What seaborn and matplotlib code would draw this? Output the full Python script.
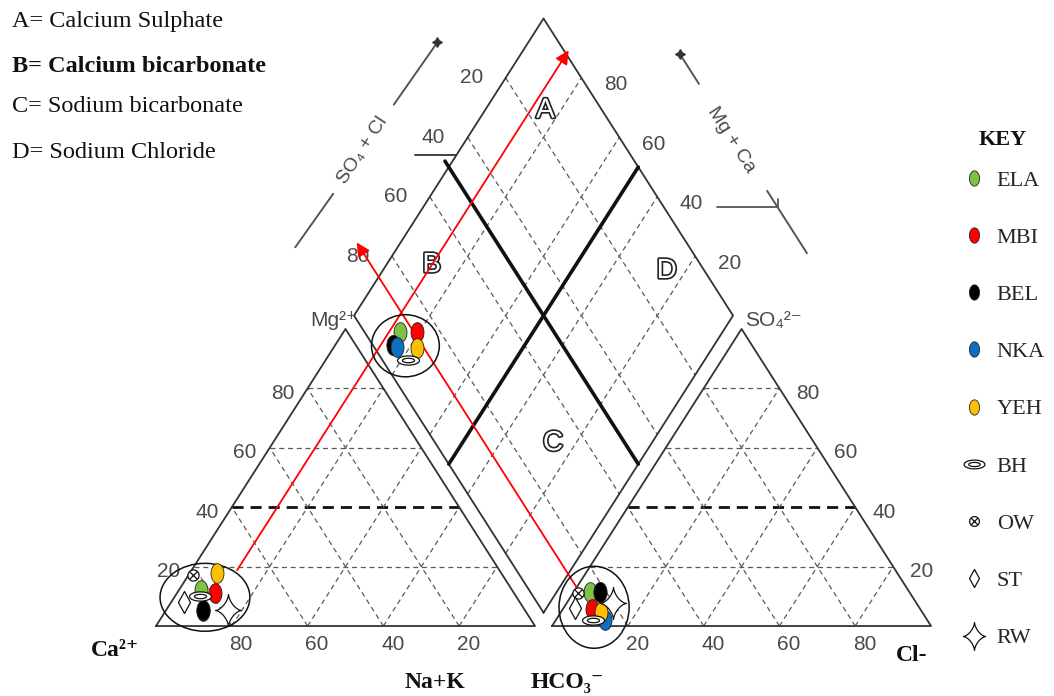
import numpy as np
import pandas as pd
import matplotlib
matplotlib.use("Agg")
import matplotlib.pyplot as plt
import seaborn as sns
from matplotlib.path import Path
from matplotlib.lines import Line2D
from matplotlib.patches import Ellipse
import matplotlib.patheffects as pe

# ---------------- data (percent of meq/L) ----------------
samples = ["ELA", "MBI", "BEL", "NKA", "YEH", "BH", "OW", "ST", "RW"]
# cations
cat_ca = [82.0, 79.0, 84.8, 85.0, 75.0, 83.5, 81.6, 88.5, 78.2]
cat_mg = [12.0, 11.0, 5.5, 5.0, 18.0, 10.0, 17.2, 8.0, 5.5]
cat_nak = [6.0, 10.0, 9.7, 10.0, 7.0, 6.5, 1.2, 3.5, 16.3]
# anions
an_hco3 = [84.3, 86.5, 81.6, 85.1, 84.8, 88.2, 87.6, 90.9, 80.2]
an_so4 = [11.4, 5.8, 11.4, 2.0, 4.7, 2.0, 11.0, 6.0, 7.7]
an_cl = [4.3, 7.7, 7.0, 12.9, 10.5, 9.8, 1.4, 3.1, 12.1]
# diamond positions as drawn (Na+K %, SO4+Cl %)
dia_nak = [15.0, 19.4, 15.2, 16.7, 22.1, 21.7, np.nan, np.nan, np.nan]
dia_clso4 = [9.4, 13.9, 5.3, 6.0, 11.2, 6.8, np.nan, np.nan, np.nan]

tick_values = [20, 40, 60, 80]
zone_letters = ["A", "B", "C", "D"]
zone_nak = [16, 12, 74, 75]
zone_clso4 = [85, 29, 31, 90]
zone_notes = ["A= Calcium Sulphate", "B= Calcium bicarbonate",
              "C= Sodium bicarbonate", "D= Sodium Chloride"]
arrow_nak = 12      # projection line from the cation cluster
arrow_clso4 = 13    # projection line from the anion cluster

# ---------------- geometry ----------------
S3 = np.sqrt(3.0)
G = 4.5  # gap between the triangles


def cat_xy(mg, nak):
    return nak + mg / 2.0, mg * S3 / 2.0


def an_xy(so4, cl):
    return 100 + G + cl + so4 / 2.0, so4 * S3 / 2.0


def dia_xy(nak, clso4):
    return (nak + 100 + G + clso4) / 2.0, S3 / 2.0 * (100 + G + clso4 - nak)


# ---------------- style ----------------
sns.set_style("white")
plt.rcParams["font.family"] = ["Liberation Sans", "DejaVu Sans"]
SERIF = ["Liberation Serif", "DejaVu Serif"]
SANS = ["Liberation Sans", "DejaVu Sans"]
GREY = "#4a4a4a"

fig = plt.figure(figsize=(10.54, 6.96), dpi=100)
ax = fig.add_axes([0, 0, 1, 1])
ax.set_xlim(-41.16, 236.94)
ax.set_ylim(-20.4, 182.5)
ax.axis("off")

EDGE = dict(color="#333333", lw=1.3, zorder=2, solid_capstyle="round")
GRID = dict(color="#5a5a5a", lw=0.9, ls=(0, (4, 3)), zorder=1)
BOLD = dict(color="#111111", lw=2.0, ls=(0, (4, 2.5)), zorder=1)
THICK = dict(color="#111111", lw=2.6, zorder=2)


def seg(p1, p2, **kw):
    ax.plot([p1[0], p2[0]], [p1[1], p2[1]], **kw)


def poly(pts, **kw):
    pts = list(pts) + [pts[0]]
    ax.plot([p[0] for p in pts], [p[1] for p in pts], **kw)


# outlines
poly([cat_xy(0, 0), cat_xy(0, 100), cat_xy(100, 0)], **EDGE)
poly([an_xy(0, 0), an_xy(0, 100), an_xy(100, 0)], **EDGE)
poly([dia_xy(100, 0), dia_xy(0, 0), dia_xy(0, 100), dia_xy(100, 100)], **EDGE)

# grids
for v in tick_values:
    st = BOLD if v == 40 else GRID
    seg(cat_xy(v, 0), cat_xy(v, 100 - v), **st)
    seg(cat_xy(0, v), cat_xy(100 - v, v), **GRID)
    seg(cat_xy(0, 100 - v), cat_xy(100 - v, 0), **GRID)
    seg(an_xy(v, 0), an_xy(v, 100 - v), **st)
    seg(an_xy(0, v), an_xy(100 - v, v), **GRID)
    seg(an_xy(0, 100 - v), an_xy(100 - v, 0), **GRID)
    seg(dia_xy(v, 0), dia_xy(v, 100), **GRID)
    seg(dia_xy(0, v), dia_xy(100, v), **GRID)
seg(dia_xy(50, 0), dia_xy(50, 100), **THICK)
seg(dia_xy(-2, 50), dia_xy(100, 50), **THICK)

# tick labels
TK = dict(color=GREY, fontsize=15, family=SANS, zorder=3)
for v in tick_values:
    x, y = cat_xy(0, 100 - v)
    ax.text(x + 2.5, y - 5.5, str(v), ha="center", va="center", **TK)
    x, y = cat_xy(v, 0)
    ax.text(x - 3.5, y - 1.5, str(v), ha="right", va="center", **TK)
    x, y = an_xy(0, v)
    ax.text(x + 2.5, y - 5.5, str(v), ha="center", va="center", **TK)
    x, y = an_xy(v, 100 - v)
    ax.text(x + 4.5, y - 1.5, str(v), ha="left", va="center", **TK)
    x, y = dia_xy(0, 100 - v)
    ax.text(x - 9, y, str(v), ha="center", va="center", **TK)
    x, y = dia_xy(100 - v, 100)
    ax.text(x + 9, y - 2, str(v), ha="center", va="center", **TK)

# apex labels
x, y = cat_xy(100, 0)
ax.text(x - 3, y + 2.5, "Mg²⁺", ha="center", va="center", color=GREY, fontsize=15, family=SANS)
x, y = an_xy(100, 0)
ax.text(x + 1, y + 2.5, "SO₄²⁻", ha="left", va="center", color=GREY, fontsize=15, family=SANS)

# bottom labels
BL = dict(fontsize=17, fontweight="bold", family=SERIF, ha="center", va="center", color="#111111")
ax.text(-10.8, -7.0, "Ca²⁺", **BL)
ax.text(73.6, -16.6, "Na+K", **BL)
ax.text(108.4, -16.6, "HCO₃⁻", **BL)
ax.text(199.5, -8.5, "Cl-", **BL)


def screen_angle(p1, p2):
    a = ax.transData.transform(p1)
    b = ax.transData.transform(p2)
    return np.degrees(np.arctan2(b[1] - a[1], b[0] - a[0]))


# diamond axis titles
AX = dict(color="#555555", lw=1.4, zorder=2)
seg(dia_xy(-27, -4), dia_xy(-26, 15), **AX)
seg(dia_xy(-25, 46), dia_xy(-24, 68), **AX)
ax.plot(*dia_xy(-24, 68), marker=(4, 1, 0), ms=7, color="#333333")
ang = screen_angle(dia_xy(-26, 0), dia_xy(-25, 60))
ax.text(*dia_xy(-25.5, 30), "SO₄ + Cl", rotation=ang, rotation_mode="anchor",
        ha="center", va="center", color=GREY, fontsize=14, family=SANS)
xe, ye = dia_xy(0, 54)
seg((xe - 11, ye), (xe, ye), color="#333333", lw=1.3)

seg(dia_xy(42, 130), dia_xy(52, 130), **AX)
seg(dia_xy(88, 130), dia_xy(109, 130), **AX)
ax.plot(*dia_xy(42, 130), marker=(4, 1, 0), ms=7, color="#333333")
ang = screen_angle(dia_xy(40, 130), dia_xy(100, 130))
ax.text(*dia_xy(70, 129), "Mg + Ca", rotation=ang, rotation_mode="anchor",
        ha="center", va="center", color=GREY, fontsize=14, family=SANS)
xm, ym = dia_xy(93.6, 130)
seg((xm - 16, ym), (xm, ym), color="#555555", lw=1.3)
seg((xm, ym), (xm, ym + 2.5), color="#555555", lw=1.3)

# zone letters
for L, n, c in zip(zone_letters, zone_nak, zone_clso4):
    ax.text(*dia_xy(n, c), L, ha="center", va="center", fontsize=20, color="white",
            family=SANS, zorder=3,
            path_effects=[pe.withStroke(linewidth=2.4, foreground="#222222")])

# projection arrows
ys, ye_ = 15.6, 168.5
ax.annotate("", xy=(arrow_nak + ye_ / S3, ye_), xytext=(arrow_nak + ys / S3, ys),
            arrowprops=dict(arrowstyle="-|>", color="red", lw=1.3, mutation_scale=20),
            zorder=4)
ys, ye_ = 9.9, 112.5
ax.annotate("", xy=(100 + G + arrow_clso4 - ye_ / S3, ye_),
            xytext=(100 + G + arrow_clso4 - ys / S3, ys),
            arrowprops=dict(arrowstyle="-|>", color="red", lw=1.3, mutation_scale=20),
            zorder=4)

# ---------------- markers ----------------
t = np.linspace(0, 2 * np.pi, 73)


def closed(v):
    v = np.asarray(v, float)
    v = np.vstack([v, v[:1]])
    return Path(v, closed=True)


OVAL = closed(np.column_stack([0.66 * np.cos(t[:-1]), np.sin(t[:-1])]))
BH_M = Path.make_compound_path(
    closed(np.column_stack([np.cos(t[:-1]), 0.42 * np.sin(t[:-1])])),
    closed(np.column_stack([0.55 * np.cos(t[:-1]), 0.2 * np.sin(t[:-1])])))
dd = 0.62
OW_M = Path.make_compound_path(
    closed(np.column_stack([np.cos(t[:-1]), np.sin(t[:-1])])),
    Path([(-dd, -dd), (dd, dd), (-dd, dd), (dd, -dd)],
         [Path.MOVETO, Path.LINETO, Path.MOVETO, Path.LINETO]))
ST_M = closed([(0, 1), (0.55, 0), (0, -1), (-0.55, 0)])
RW_M = closed(np.column_stack([0.8 * np.cos(t[:-1]) ** 3, np.sin(t[:-1]) ** 3]))

markers = {"ELA": OVAL, "MBI": OVAL, "BEL": OVAL, "NKA": OVAL, "YEH": OVAL,
           "BH": BH_M, "OW": OW_M, "ST": ST_M, "RW": RW_M}
colors = {"ELA": "#7dc243", "MBI": "#ff0000", "BEL": "#000000", "NKA": "#0b6fc4",
          "YEH": "#ffbf00", "BH": "white", "OW": "white", "ST": "white", "RW": "white"}
sizes = {"ELA": 200, "MBI": 200, "BEL": 210, "NKA": 200, "YEH": 200,
         "BH": 250, "OW": 64, "ST": 250, "RW": 530}
edges = {k: ("#222222", 0.6) if k in ["ELA", "MBI", "BEL", "NKA", "YEH"] else ("#111111", 0.9)
         for k in samples}

cx, cy = zip(*[cat_xy(m, n) for m, n in zip(cat_mg, cat_nak)])
axx, axy = zip(*[an_xy(s, c) for s, c in zip(an_so4, an_cl)])
dx, dy = zip(*[dia_xy(n, c) for n, c in zip(dia_nak, dia_clso4)])
df = pd.DataFrame({"sample": samples, "cx": cx, "cy": cy, "ax": axx, "ay": axy,
                   "dx": dx, "dy": dy})

orders = {
    ("cx", "cy"): ["NKA", "ELA", "MBI", "BEL", "YEH", "BH", "OW", "ST", "RW"],
    ("ax", "ay"): ["ELA", "MBI", "BEL", "NKA", "YEH", "BH", "OW", "ST", "RW"],
    ("dx", "dy"): ["ELA", "MBI", "BEL", "NKA", "YEH", "BH", "OW", "ST", "RW"],
}
ell_size = {("cx", "cy"): (23.7, 19.8), ("ax", "ay"): (18.5, 23.9), ("dx", "dy"): (17.9, 18.1)}

for (xc, yc), order in orders.items():
    z = 5
    for name in order:
        sub = df[df["sample"] == name].dropna(subset=[xc, yc])
        if sub.empty:
            continue
        ec, lw = edges[name]
        sns.scatterplot(data=sub, x=xc, y=yc, ax=ax, marker=markers[name], s=sizes[name],
                        color=colors[name], edgecolor=ec, linewidth=lw, legend=False,
                        zorder=z)
        z += 0.1
    pts = df[[xc, yc]].dropna()
    w, h = ell_size[(xc, yc)]
    ax.add_patch(Ellipse((pts[xc].mean(), pts[yc].mean() - 0.5), w, h, fill=False,
                         ec="#111111", lw=1.1, zorder=4))
ax.set_xlabel("")
ax.set_ylabel("")

# ---------------- key ----------------
handles = []
leg_ms = {"OW": 7, "ST": 13, "RW": 20, "BH": 15}
for name in samples:
    ec, lw = edges[name]
    handles.append(Line2D([], [], ls="none", marker=markers[name], ms=leg_ms.get(name, 11),
                          mfc=colors[name], mec=ec, mew=lw))
fig.text(1003 / 1054, 1 - 140 / 696, "KEY", ha="center", va="center", fontsize=16,
         fontweight="bold", family=SERIF, color="#111111")
leg = ax.legend(handles, samples, loc="upper left", bbox_to_anchor=(960 / 1054, 1 - 170 / 696),
                frameon=False, labelspacing=1.65, handletextpad=0.35,
                handlelength=1.3, borderaxespad=0, borderpad=0,
                prop={"family": SERIF, "size": 16})

# ---------------- notes ----------------
for i, (note, yy) in enumerate(zip(zone_notes, [22, 67, 106, 152])):
    fig.text(12 / 1054, 1 - yy / 696, note, ha="left", va="center", fontsize=17.5,
             family=SERIF, fontweight="bold" if i == 1 else "normal", color="#111111")

fig.savefig("out.png", dpi=100)
